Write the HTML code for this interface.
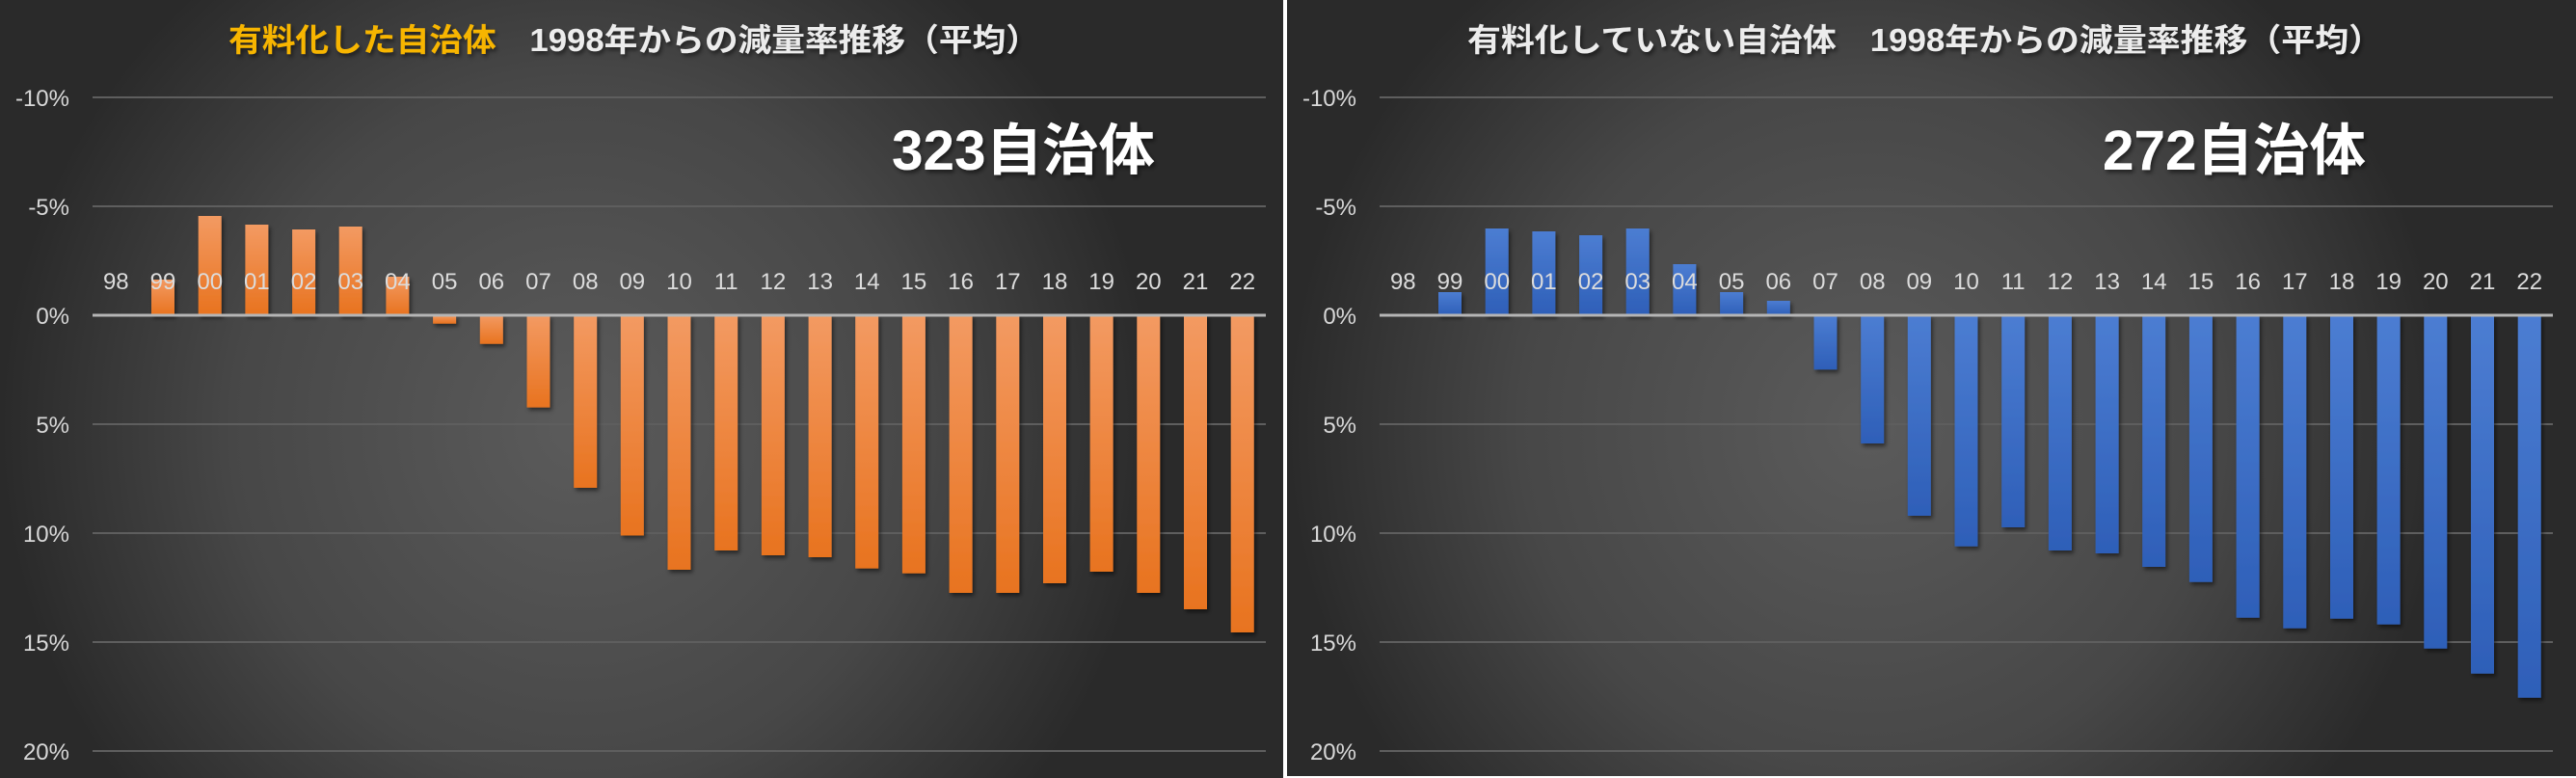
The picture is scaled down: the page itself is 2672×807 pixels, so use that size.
<!DOCTYPE html>
<html><head><meta charset="utf-8"><style>
html,body{margin:0;padding:0;background:#fff;}
svg{display:block;}
.t{font-family:"Liberation Sans","Noto Sans CJK JP",sans-serif;}
</style></head><body>
<svg width="2672" height="807" viewBox="0 0 2672 807" xmlns="http://www.w3.org/2000/svg" class="t">
<defs>
<radialGradient id="bg" cx="0.45" cy="0.55" r="0.75" gradientTransform="translate(0.45 0.55) scale(0.6 1) translate(-0.45 -0.55)">
<stop offset="0" stop-color="#5b5b5b"/><stop offset="0.6" stop-color="#474747"/><stop offset="1" stop-color="#2a2a2a"/></radialGradient>
<linearGradient id="or" x1="0" y1="0" x2="0" y2="1"><stop offset="0" stop-color="#f39a62"/><stop offset="1" stop-color="#e8731f"/></linearGradient>
<linearGradient id="bl" x1="0" y1="0" x2="0" y2="1"><stop offset="0" stop-color="#4c7dd2"/><stop offset="1" stop-color="#2e5fb8"/></linearGradient>
<filter id="sh" x="-20%" y="-20%" width="160%" height="160%"><feDropShadow dx="2" dy="3" stdDeviation="2" flood-color="#000" flood-opacity="0.5"/></filter>
</defs>
<rect x="0" y="0" width="1331" height="807" fill="url(#bg)"/>
<rect x="1335" y="0" width="1337" height="805" fill="url(#bg)"/>

<!-- LEFT CHART -->
<g>
<g stroke="#5e5e5e" stroke-width="2">
<line x1="96" y1="101" x2="1313" y2="101"/><line x1="96" y1="214" x2="1313" y2="214"/>
<line x1="96" y1="440" x2="1313" y2="440"/><line x1="96" y1="553" x2="1313" y2="553"/>
<line x1="96" y1="666" x2="1313" y2="666"/><line x1="96" y1="779" x2="1313" y2="779"/>
</g>
<g fill="#d8d8d8" font-size="24" text-anchor="end">
<text x="72" y="110">-10%</text><text x="72" y="223">-5%</text><text x="72" y="336">0%</text>
<text x="72" y="449">5%</text><text x="72" y="562">10%</text><text x="72" y="675">15%</text><text x="72" y="788">20%</text>
</g>
<g fill="url(#or)" filter="url(#sh)">
<rect x="157" y="290" width="24" height="37"/>
<rect x="205.7" y="224" width="24" height="103"/>
<rect x="254.4" y="233" width="24" height="94"/>
<rect x="303.1" y="238" width="24" height="89"/>
<rect x="351.7" y="235" width="24" height="92"/>
<rect x="400.4" y="287" width="24" height="40"/>
<rect x="449.1" y="327" width="24" height="8.7"/>
<rect x="497.8" y="327" width="24" height="29.7"/>
<rect x="546.5" y="327" width="24" height="95.6"/>
<rect x="595.2" y="327" width="24" height="179"/>
<rect x="643.8" y="327" width="24" height="228.5"/>
<rect x="692.5" y="327" width="24" height="264"/>
<rect x="741.2" y="327" width="24" height="244"/>
<rect x="789.9" y="327" width="24" height="249"/>
<rect x="838.6" y="327" width="24" height="251"/>
<rect x="887.2" y="327" width="24" height="262.6"/>
<rect x="935.9" y="327" width="24" height="267.7"/>
<rect x="984.6" y="327" width="24" height="288"/>
<rect x="1033.3" y="327" width="24" height="288"/>
<rect x="1082" y="327" width="24" height="278"/>
<rect x="1130.6" y="327" width="24" height="266"/>
<rect x="1179.3" y="327" width="24" height="288"/>
<rect x="1228" y="327" width="24" height="305"/>
<rect x="1276.7" y="327" width="24" height="329"/>
</g>
<line x1="96" y1="327" x2="1313" y2="327" stroke="#b5b5b5" stroke-width="3"/>
<g fill="#dcdcdc" font-size="24" text-anchor="middle">
<text x="120.3" y="300">98</text><text x="169" y="300">99</text><text x="217.7" y="300">00</text><text x="266.4" y="300">01</text><text x="315.1" y="300">02</text><text x="363.7" y="300">03</text><text x="412.4" y="300">04</text><text x="461.1" y="300">05</text><text x="509.8" y="300">06</text><text x="558.5" y="300">07</text><text x="607.2" y="300">08</text><text x="655.8" y="300">09</text><text x="704.5" y="300">10</text><text x="753.2" y="300">11</text><text x="801.9" y="300">12</text><text x="850.6" y="300">13</text><text x="899.2" y="300">14</text><text x="947.9" y="300">15</text><text x="996.6" y="300">16</text><text x="1045.3" y="300">17</text><text x="1094" y="300">18</text><text x="1142.6" y="300">19</text><text x="1191.3" y="300">20</text><text x="1240" y="300">21</text><text x="1288.7" y="300">22</text>
</g>
<text x="237" y="53" font-size="33" font-weight="bold" fill="#ececec" textLength="841" lengthAdjust="spacingAndGlyphs" filter="url(#sh)"><tspan fill="#f7b500">有料化した自治体</tspan>　1998年からの減量率推移（平均）</text>
<text x="925" y="176" font-size="58" font-weight="bold" fill="#fff" textLength="273" lengthAdjust="spacingAndGlyphs" filter="url(#sh)">323自治体</text>
</g>

<!-- RIGHT CHART -->
<g transform="translate(1335,0)">
<g stroke="#5e5e5e" stroke-width="2">
<line x1="96" y1="101" x2="1313" y2="101"/><line x1="96" y1="214" x2="1313" y2="214"/>
<line x1="96" y1="440" x2="1313" y2="440"/><line x1="96" y1="553" x2="1313" y2="553"/>
<line x1="96" y1="666" x2="1313" y2="666"/><line x1="96" y1="779" x2="1313" y2="779"/>
</g>
<g fill="#d8d8d8" font-size="24" text-anchor="end">
<text x="72" y="110">-10%</text><text x="72" y="223">-5%</text><text x="72" y="336">0%</text>
<text x="72" y="449">5%</text><text x="72" y="562">10%</text><text x="72" y="675">15%</text><text x="72" y="788">20%</text>
</g>
<g fill="url(#bl)" filter="url(#sh)">
<rect x="157" y="303" width="24" height="24"/>
<rect x="205.7" y="237" width="24" height="90"/>
<rect x="254.4" y="240" width="24" height="87"/>
<rect x="303.1" y="244" width="24" height="83"/>
<rect x="351.7" y="237" width="24" height="90"/>
<rect x="400.4" y="274" width="24" height="53"/>
<rect x="449.1" y="303" width="24" height="24"/>
<rect x="497.8" y="312" width="24" height="15"/>
<rect x="546.5" y="327" width="24" height="56.4"/>
<rect x="595.2" y="327" width="24" height="133"/>
<rect x="643.8" y="327" width="24" height="208"/>
<rect x="692.5" y="327" width="24" height="239.7"/>
<rect x="741.2" y="327" width="24" height="220"/>
<rect x="789.9" y="327" width="24" height="244"/>
<rect x="838.6" y="327" width="24" height="247"/>
<rect x="887.2" y="327" width="24" height="261"/>
<rect x="935.9" y="327" width="24" height="276.7"/>
<rect x="984.6" y="327" width="24" height="313.7"/>
<rect x="1033.3" y="327" width="24" height="324.7"/>
<rect x="1082" y="327" width="24" height="314.7"/>
<rect x="1130.6" y="327" width="24" height="320.7"/>
<rect x="1179.3" y="327" width="24" height="345.7"/>
<rect x="1228" y="327" width="24" height="371.7"/>
<rect x="1276.7" y="327" width="24" height="396.7"/>
</g>
<line x1="96" y1="327" x2="1313" y2="327" stroke="#b5b5b5" stroke-width="3"/>
<g fill="#dcdcdc" font-size="24" text-anchor="middle">
<text x="120.3" y="300">98</text><text x="169" y="300">99</text><text x="217.7" y="300">00</text><text x="266.4" y="300">01</text><text x="315.1" y="300">02</text><text x="363.7" y="300">03</text><text x="412.4" y="300">04</text><text x="461.1" y="300">05</text><text x="509.8" y="300">06</text><text x="558.5" y="300">07</text><text x="607.2" y="300">08</text><text x="655.8" y="300">09</text><text x="704.5" y="300">10</text><text x="753.2" y="300">11</text><text x="801.9" y="300">12</text><text x="850.6" y="300">13</text><text x="899.2" y="300">14</text><text x="947.9" y="300">15</text><text x="996.6" y="300">16</text><text x="1045.3" y="300">17</text><text x="1094" y="300">18</text><text x="1142.6" y="300">19</text><text x="1191.3" y="300">20</text><text x="1240" y="300">21</text><text x="1288.7" y="300">22</text>
</g>
<text x="187" y="53" font-size="33" font-weight="bold" fill="#ececec" textLength="949" lengthAdjust="spacingAndGlyphs" filter="url(#sh)">有料化していない自治体　1998年からの減量率推移（平均）</text>
<text x="846" y="176" font-size="58" font-weight="bold" fill="#fff" textLength="273" lengthAdjust="spacingAndGlyphs" filter="url(#sh)">272自治体</text>
</g>
</svg>
</body></html>
